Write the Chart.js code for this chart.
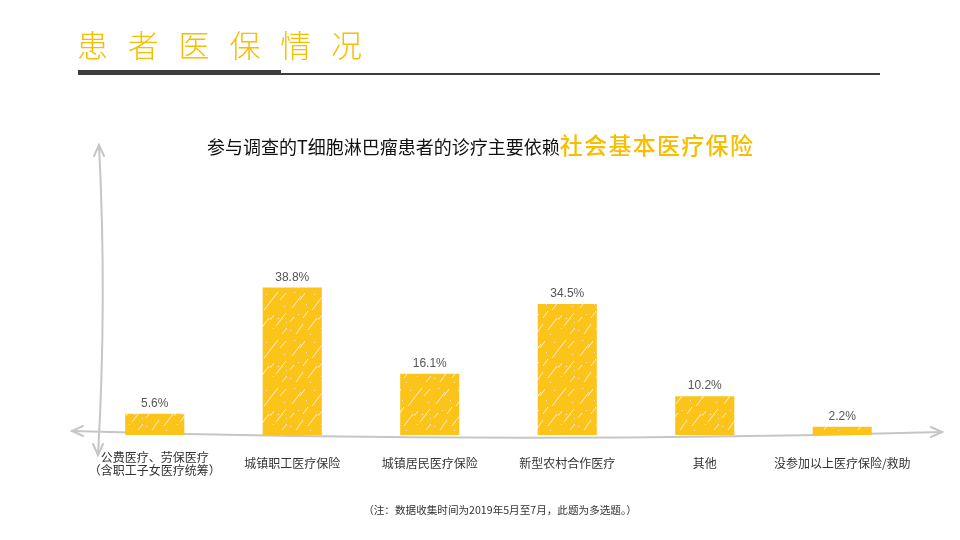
<!DOCTYPE html>
<html>
<head>
<meta charset="utf-8">
<script src="https://cdn.jsdelivr.net/npm/chart.js@4.4.0/dist/chart.umd.min.js"></script>
<style>
    body { margin: 0; background: #fff; font-family: 'Noto Sans CJK SC', sans-serif; }
    #page { position: relative; width: 960px; height: 540px; overflow: hidden; background: #fff; }
    #chart { position: absolute; left: 0; top: 0; }
    .title { position: absolute; left: 77px; top: 22px; font-size: 31px; line-height: 44px; color: #F7BD00; letter-spacing: 19.8px; font-weight: 300; white-space: nowrap; }
    .rule-dark { position: absolute; left: 78px; top: 70px; width: 203px; height: 5px; background: #3d3d3d; }
    .rule-thin { position: absolute; left: 281px; top: 73px; width: 599px; height: 2px; background: #3d3d3d; }
    .subtitle { position: absolute; left: 207px; top: 127px; white-space: nowrap; color: #111; font-size: 18px; line-height: 34px; }
    .subtitle b { color: #F7BD00; font-size: 23px; font-weight: 500; letter-spacing: 1.3px; }
    .note { position: absolute; left: 0; width: 1000px; top: 502px; text-align: center; font-size: 10.6px; color: #333; white-space: nowrap; }
</style>
</head>
<body>
<div id="page">
    <canvas id="chart" width="960" height="540"></canvas>
    <div class="title">患者医保情况</div>
    <div class="rule-dark"></div>
    <div class="rule-thin"></div>
    <div class="subtitle">参与调查的T细胞淋巴瘤患者的诊疗主要依赖<b>社会基本医疗保险</b></div>
    <div class="note">（注：数据收集时间为2019年5月至7月，此题为多选题。）</div>
</div>
<script>
// Data
const categories = [
    ['公费医疗、劳保医疗', '（含职工子女医疗统筹）'],
    '城镇职工医疗保险',
    '城镇居民医疗保险',
    '新型农村合作医疗',
    '其他',
    '没参加以上医疗保险/救助'
];
const shares = [5.6, 38.8, 16.1, 34.5, 10.2, 2.2];

// Sketchy yellow fill
function makePattern(ctx) {
    const c = document.createElement('canvas');
    c.width = 48; c.height = 48;
    const g = c.getContext('2d');
    g.fillStyle = '#FCC41A';
    g.fillRect(0, 0, 48, 48);
    g.strokeStyle = 'rgba(255,255,255,0.75)';
    g.lineWidth = 1;
    const strokes = [[4, 20, 13, 8], [20, 42, 29, 30], [30, 14, 38, 4], [8, 46, 15, 36], [36, 38, 46, 25],
        [15, 30, 20, 23], [40, 12, 46, 5], [2, 34, 6, 29], [24, 22, 31, 13], [42, 46, 47, 40], [12, 12, 17, 5], [30, 32, 34, 27]];
    strokes.forEach(s => { g.beginPath(); g.moveTo(s[0], s[1]); g.lineTo(s[2], s[3]); g.stroke(); });
    g.fillStyle = 'rgba(255,255,255,0.7)';
    const dots = [[6, 4], [18, 16], [33, 40], [44, 18], [10, 26], [26, 6], [38, 30], [22, 46], [2, 42], [46, 34]];
    dots.forEach(d => g.fillRect(d[0], d[1], 1, 1));
    return ctx.createPattern(c, 'repeat');
}

// Hand-drawn axes
const sketchAxes = {
    id: 'sketchAxes',
    beforeDatasetsDraw(chart) {
        const { ctx, chartArea: a } = chart;
        ctx.save();
        ctx.strokeStyle = '#c6c6c6';
        ctx.lineWidth = 2;
        ctx.lineCap = 'round';
        // horizontal
        const x0 = a.left - 14, x1 = a.right + 31, yb = a.bottom;
        ctx.beginPath();
        ctx.moveTo(x0, yb - 4);
        ctx.quadraticCurveTo((x0 + x1) / 2, yb + 9, x1, yb - 3);
        ctx.stroke();
        ctx.beginPath();
        ctx.moveTo(x0 + 11, yb - 9); ctx.lineTo(x0, yb - 4); ctx.lineTo(x0 + 11, yb + 1);
        ctx.moveTo(x1 - 11, yb - 8); ctx.lineTo(x1, yb - 3); ctx.lineTo(x1 - 11, yb + 2);
        ctx.stroke();
        // vertical
        const vx = a.left + 13, t = 145, b = 455;
        ctx.beginPath();
        ctx.moveTo(vx, t);
        ctx.quadraticCurveTo(vx + 8, (t + b) / 2, vx - 1, b);
        ctx.stroke();
        ctx.beginPath();
        ctx.moveTo(vx - 5, t + 11); ctx.lineTo(vx, t); ctx.lineTo(vx + 5, t + 11);
        ctx.moveTo(vx - 6, b - 11); ctx.lineTo(vx - 1, b); ctx.lineTo(vx + 4, b - 11);
        ctx.stroke();
        ctx.restore();
    }
};

// Value labels above bars
const valueLabels = {
    id: 'valueLabels',
    afterDatasetsDraw(chart) {
        const { ctx } = chart;
        const meta = chart.getDatasetMeta(0);
        ctx.save();
        ctx.font = "12px 'Liberation Sans', Arial, sans-serif";
        ctx.fillStyle = '#555';
        ctx.textAlign = 'center';
        ctx.textBaseline = 'alphabetic';
        meta.data.forEach((bar, i) => {
            ctx.fillText(shares[i].toFixed(1) + '%', bar.x, bar.y - 7);
        });
        ctx.restore();
    }
};

const ctx = document.getElementById('chart').getContext('2d');
new Chart(ctx, {
    type: 'bar',
    data: {
        labels: categories,
        datasets: [{
            data: shares,
            backgroundColor: makePattern(ctx),
            borderWidth: 0,
            barPercentage: 0.43,
            categoryPercentage: 1
        }]
    },
    options: {
        responsive: false,
        animation: false,
        layout: { padding: { left: 86, right: 49, top: 245, bottom: 0 } },
        plugins: { legend: { display: false }, tooltip: { enabled: false } },
        scales: {
            x: {
                grid: { display: false, drawTicks: false },
                border: { display: false },
                ticks: {
                    color: '#333',
                    font: { family: "'Noto Sans CJK SC', sans-serif", size: 12, lineHeight: 1.1 },
                    padding: 22,
                    crossAlign: 'center',
                    maxRotation: 0,
                    autoSkip: false
                },
                afterFit(scale) { scale.height = 105; }
            },
            y: { display: false, min: 0, max: 50 }
        }
    },
    plugins: [sketchAxes, valueLabels]
});
</script>
</body>
</html>
